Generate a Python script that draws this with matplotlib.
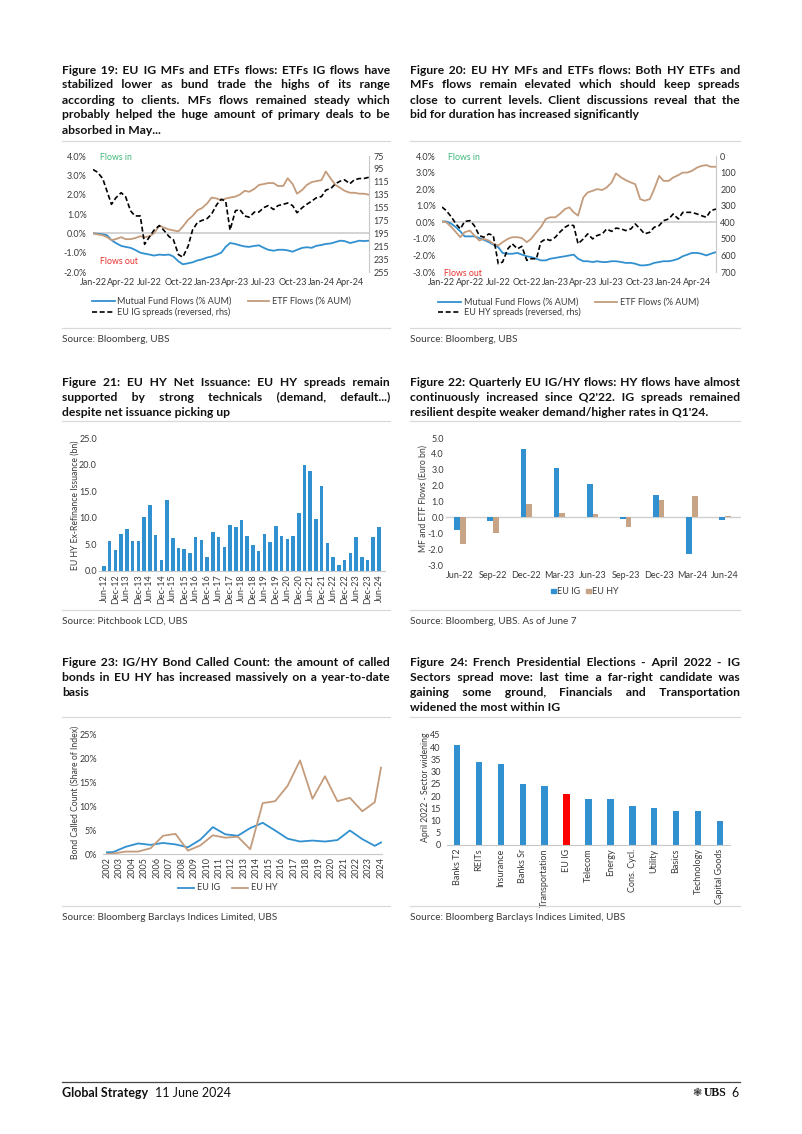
import matplotlib
matplotlib.use('Agg')
import matplotlib.pyplot as plt
from matplotlib import font_manager as fm
from matplotlib.font_manager import FontProperties
from matplotlib.patches import Rectangle
import numpy as np
import pandas as pd

# ---------------- data ----------------
dates = pd.date_range('2022-01-01', '2024-06-01', freq='SMS')
date_ticks = pd.date_range('2022-01-01', '2024-04-01', freq='3MS')

ig_mf = [0.0, -0.02, -0.05, -0.1, -0.35, -0.5, -0.65, -0.7, -0.75, -0.85,
         -1.0, -1.05, -1.1, -1.15, -1.1, -1.12, -1.1, -1.2, -1.45, -1.6,
         -1.55, -1.5, -1.4, -1.35, -1.25, -1.2, -1.1, -1.0, -0.7, -0.5,
         -0.55, -0.62, -0.68, -0.7, -0.65, -0.62, -0.75, -0.85, -0.9, -0.85,
         -0.85, -0.88, -0.95, -0.85, -0.75, -0.72, -0.75, -0.65, -0.6, -0.55,
         -0.52, -0.45, -0.38, -0.4, -0.5, -0.45, -0.38, -0.4, -0.38]
ig_etf = [0.0, -0.05, -0.1, -0.2, -0.35, -0.3, -0.2, -0.3, -0.3, -0.25,
          -0.15, -0.2, -0.15, 0.0, 0.4, 0.3, 0.2, 0.15, 0.1, 0.35,
          0.7, 0.9, 1.2, 1.3, 1.55, 1.85, 1.8, 1.7, 1.8, 1.85,
          1.9, 2.0, 2.2, 2.15, 2.3, 2.5, 2.55, 2.6, 2.6, 2.45,
          2.45, 2.85, 2.55, 2.05, 2.25, 2.5, 2.65, 2.7, 2.75, 3.2,
          2.8, 2.5, 2.35, 2.2, 2.1, 2.1, 2.05, 2.05, 2.0]
ig_spread = [96, 100, 110, 130, 150, 140, 132, 138, 160, 168,
             168, 212, 200, 190, 183, 190, 200, 205, 228, 232,
             215, 190, 178, 175, 172, 165, 150, 142, 145, 190,
             160, 158, 168, 170, 162, 162, 155, 152, 158, 152,
             150, 148, 152, 163, 155, 150, 145, 140, 138, 128,
             125, 118, 114, 112, 118, 112, 110, 110, 108]

hy_mf = [0.05, 0.05, -0.1, -0.3, -0.55, -0.85, -0.85, -0.85, -0.95, -1.05,
         -1.2, -1.35, -1.5, -1.85, -1.9, -1.9, -1.85, -1.95, -2.05, -2.1,
         -2.2, -2.3, -2.3, -2.2, -2.15, -2.1, -2.05, -2.0, -1.95, -2.2,
         -2.35, -2.35, -2.4, -2.35, -2.4, -2.4, -2.35, -2.35, -2.4, -2.45,
         -2.45, -2.5, -2.6, -2.6, -2.55, -2.45, -2.4, -2.35, -2.35, -2.3,
         -2.2, -2.05, -1.95, -1.85, -1.85, -1.9, -2.0, -1.9, -1.8]
hy_etf = [0.05, 0.0, -0.3, -0.6, -0.9, -0.6, -0.5, -0.8, -1.1, -1.0,
          -1.1, -1.3, -1.4, -1.2, -1.0, -0.9, -0.9, -0.95, -1.2, -1.0,
          -0.6, -0.3, 0.2, 0.3, 0.3, 0.5, 0.8, 0.9, 0.6, 0.4,
          1.5, 1.8, 1.9, 2.0, 1.95, 2.1, 2.4, 2.95, 2.7, 2.55,
          2.4, 2.3, 1.4, 1.3, 1.4, 2.0, 2.8, 2.5, 2.5, 2.7,
          2.85, 3.0, 3.0, 3.1, 3.3, 3.4, 3.45, 3.35, 3.35]
hy_spread = [308, 330, 370, 410, 440, 395, 390, 420, 480, 490,
             470, 480, 650, 640, 560, 530, 560, 545, 630, 620,
             620, 520, 500, 510, 490, 460, 430, 415, 420, 530,
             500, 470, 500, 480, 470, 440, 455, 435, 440, 450,
             440, 410, 440, 470, 460, 430, 420, 390, 380, 350,
             380, 340, 340, 340, 350, 360, 370, 330, 320]

quarters = pd.date_range('2012-06-30', '2024-06-30', freq='QE')
issuance = [1.0, 5.7, 4.0, 6.9, 7.9, 5.7, 5.6, 10.2, 12.4, 6.7,
            2.0, 13.4, 6.2, 4.3, 4.2, 3.4, 6.4, 5.9, 2.7, 7.4,
            6.3, 4.5, 8.6, 8.3, 9.6, 6.5, 4.8, 3.7, 7.0, 5.5,
            8.4, 6.5, 6.0, 6.5, 10.9, 19.9, 18.8, 9.8, 15.9, 5.3,
            2.6, 1.1, 2.1, 3.3, 6.4, 2.7, 2.0, 6.3, 8.2]

flow_q = ['Jun-22', 'Sep-22', 'Dec-22', 'Mar-23', 'Jun-23', 'Sep-23', 'Dec-23', 'Mar-24', 'Jun-24']
flow_ig = [-0.8, -0.25, 4.3, 3.1, 2.1, -0.1, 1.4, -2.3, -0.15]
flow_hy = [-1.67, -0.96, 0.87, 0.25, 0.22, -0.6, 1.1, 1.36, 0.1]

called_x = [2002.0, 2002.5, 2003.5, 2004.5, 2005.5, 2006.5, 2007.5, 2008.5, 2009.5, 2010.5,
            2011.5, 2012.5, 2013.5, 2014.5, 2015.5, 2016.5, 2017.5, 2018.5, 2019.5, 2020.5,
            2021.5, 2022.5, 2023.5, 2024.0]
called_ig = [0.35, 0.4, 1.5, 2.2, 1.9, 2.3, 2.0, 1.4, 3.0, 5.6,
             4.1, 3.8, 5.4, 6.5, 4.9, 3.2, 2.6, 2.8, 2.6, 2.9,
             4.9, 3.1, 1.7, 2.4]
called_hy = [0.0, 0.1, 0.5, 0.5, 1.2, 3.8, 4.2, 0.7, 1.8, 3.9,
             3.4, 3.6, 1.0, 10.6, 11.0, 14.2, 19.5, 11.5, 16.2, 11.0,
             11.7, 8.9, 10.8, 18.0]
called_years = list(range(2002, 2025))

sectors = ['Banks T2', 'REITs', 'Insurance', 'Banks Sr', 'Transportation', 'EU IG', 'Telecom',
           'Energy', 'Cons. Cycl.', 'Utility', 'Basics', 'Technology', 'Capital Goods']
widening = [41, 34, 33, 25, 24, 21, 19, 19, 16, 15, 14, 14, 10]

# ---------------- style ----------------
W, H = 802, 1134
BLUE = '#3190D0'
TAN = '#C49C7C'
TANBAR = '#C8A486'
GRAY = '#C8C8C8'
TXT = '#3A3A3A'

avail = {f.name for f in fm.fontManager.ttflist}
def pick(*names):
    for n in names:
        if n in avail:
            return n
    return 'DejaVu Sans'
TFONT = pick('Liberation Sans Narrow', 'Lato', 'DejaVu Sans')
FONT = pick('Liberation Sans Narrow', 'Lato', 'DejaVu Sans')
plt.rcParams['font.family'] = [FONT, 'DejaVu Sans']
TICK = 6.5

fig = plt.figure(figsize=(W / 100, H / 100), dpi=100)
renderer = fig.canvas.get_renderer()


def rect(x0, y0, x1, y1):
    return [x0 / W, 1 - y1 / H, (x1 - x0) / W, (y1 - y0) / H]


def tw(s, fp):
    w, h, d = renderer.get_text_width_height_descent(s, fp, ismath=False)
    return w


def clean(ax, keep=()):
    for s in ['top', 'left', 'right', 'bottom']:
        ax.spines[s].set_visible(s in keep)
        ax.spines[s].set_color(GRAY)
    ax.tick_params(length=0, labelsize=TICK, colors=TXT)


def flows_chart(x0, x1, mf, etf, spread, ylo, yhi, slo, shi, sstep):
    ax = fig.add_axes(rect(x0, 156, x1, 272))
    ax.axhline(0, color='#D0D0D0', lw=1.3, zorder=0)
    ax.plot(dates, mf, color=BLUE, lw=1.3)
    ax.plot(dates, etf, color=TAN, lw=1.3)
    ax.set_ylim(ylo, yhi)
    ax.set_yticks(np.arange(ylo, yhi + 0.01, 1))
    ax.set_yticklabels([f'{v:.1f}%' for v in np.arange(ylo, yhi + 0.01, 1)])
    ax.set_xlim(dates[0], dates[-1])
    ax.set_xticks(date_ticks)
    ax.set_xticklabels([d.strftime('%b-%y') for d in date_ticks])
    clean(ax)
    ax.tick_params(axis='y', pad=4.5)
    ax.tick_params(axis='x', pad=4)
    axr = ax.twinx()
    axr.plot(dates, spread, color='black', lw=1.2, ls=(0, (3, 1.6)))
    axr.set_ylim(shi, slo)
    axr.set_yticks(np.arange(slo, shi + 1, sstep))
    clean(axr, keep=('right',))
    axr.tick_params(axis='y', pad=3)
    return ax


flows_chart(93, 369, ig_mf, ig_etf, ig_spread, -2, 4, 75, 255, 20)
flows_chart(442, 716, hy_mf, hy_etf, hy_spread, -3, 4, 0, 700, 100)

# Figure 21: issuance bars
ax3 = fig.add_axes(rect(99, 438, 385, 571))
xq = np.arange(len(issuance))
ax3.bar(xq, issuance, width=0.62, color=BLUE)
ax3.set_xlim(-0.87, len(issuance) + 0.05)
ax3.set_ylim(0, 25)
ax3.set_yticks(np.arange(0, 26, 5))
ax3.set_yticklabels([f'{v:.1f}' for v in np.arange(0, 26, 5)])
ax3.set_xticks(xq[::2])
ax3.set_xticklabels([q.strftime('%b-%y') for q in quarters[::2]], rotation=90)
clean(ax3, keep=('bottom',))
ax3.tick_params(axis='y', pad=1.5)
ax3.tick_params(axis='x', pad=2.5)

# Figure 22: quarterly flows
ax4 = fig.add_axes(rect(446, 438, 741, 565))
xf = np.arange(len(flow_q))
ax4.axhline(0, color='#D0D0D0', lw=1.0, zorder=0)
ax4.bar(xf - 0.085, flow_ig, width=0.17, color=BLUE)
ax4.bar(xf + 0.085, flow_hy, width=0.17, color=TANBAR)
ax4.set_xlim(-0.42, len(flow_q) - 0.52)
ax4.set_ylim(-3, 5)
ax4.set_yticks(np.arange(-3, 5.1, 1))
ax4.set_yticklabels([f'{v:.1f}' for v in np.arange(-3, 5.1, 1)])
ax4.set_xticks(xf)
ax4.set_xticklabels(flow_q)
clean(ax4)
ax4.tick_params(axis='y', pad=1.5)
ax4.tick_params(axis='x', pad=4)

# Figure 23: called count
ax5 = fig.add_axes(rect(103, 734, 382, 854))
ax5.plot(called_x, called_ig, color=BLUE, lw=1.3)
ax5.plot(called_x, called_hy, color=TAN, lw=1.3)
ax5.set_xlim(2001.68, 2024.08)
ax5.set_ylim(0, 25)
ax5.set_yticks(np.arange(0, 26, 5))
ax5.set_yticklabels([f'{v}%' for v in range(0, 26, 5)])
ax5.set_xticks(called_years)
ax5.set_xticklabels([str(y) for y in called_years], rotation=90)
clean(ax5, keep=('bottom',))
ax5.tick_params(axis='y', pad=4.5)
ax5.tick_params(axis='x', pad=2.5)

# Figure 24: sector widening
ax6 = fig.add_axes(rect(447, 735, 730, 845))
xs = np.arange(len(sectors))
cols = ['#FF0000' if s == 'EU IG' else BLUE for s in sectors]
ax6.bar(xs, widening, width=0.3, color=cols)
ax6.set_xlim(-0.46, len(sectors) - 0.54)
ax6.set_ylim(0, 45)
ax6.set_yticks(np.arange(0, 46, 5))
ax6.set_xticks(xs)
ax6.set_xticklabels(sectors, rotation=90)
clean(ax6, keep=('bottom',))
ax6.tick_params(axis='y', pad=4.5)
ax6.tick_params(axis='x', pad=2.5)

# ---------------- overlay (page text, legends) ----------------
ov = fig.add_axes([0, 0, 1, 1])
ov.set_xlim(0, W)
ov.set_ylim(H, 0)
ov.axis('off')
ov.set_zorder(20)

HAIR = '\u200a'


def title_block(lines, x0, x1, y0, dy, size):
    fp = FontProperties(family=[TFONT, 'DejaVu Sans'], weight='bold', size=size)
    normal = tw('a a', fp) - tw('aa', fp)
    wh = tw('a' + HAIR * 10 + 'a', fp) - tw('aa', fp)
    wh = wh / 10.0
    use_hair = wh > 0.3
    for i, line in enumerate(lines):
        words = line.split(' ')
        y = y0 + i * dy
        if i == len(lines) - 1 or len(words) == 1:
            s = line
        else:
            widths = [tw(w, fp) for w in words]
            gap = (x1 - x0 - sum(widths)) / (len(words) - 1)
            parts = [words[0]]
            err = 0.0
            for w in words[1:]:
                target = gap + err
                if use_hair:
                    n = max(1, int(round(target / wh)))
                    parts.append(HAIR * n)
                    err = target - n * wh
                else:
                    n = max(1, int(round(target / normal)))
                    parts.append(' ' * n)
                    err = target - n * normal
                parts.append(w)
            s = ''.join(parts)
        ov.text(x0, y, s, fontproperties=fp, ha='left', va='center', color='#111111')


def fit_size(all_lines, width, start=9.5):
    fp = FontProperties(family=TFONT, weight='bold', size=start)
    mx = 0
    for lines in all_lines:
        for line in lines[:-1]:
            mx = max(mx, tw(line, fp))
    if mx > width - 3:
        return start * (width - 3) / mx
    return start


titles = {
    19: ["Figure 19: EU IG MFs and ETFs flows: ETFs IG flows have",
         "stabilized lower as bund trade the highs of its range",
         "according to clients. MFs flows remained steady which",
         "probably helped the huge amount of primary deals to be",
         "absorbed in May..."],
    20: ["Figure 20: EU HY MFs and ETFs flows: Both HY ETFs and",
         "MFs flows remain elevated which should keep spreads",
         "close to current levels. Client discussions reveal that the",
         "bid for duration has increased significantly"],
    21: ["Figure 21: EU HY Net Issuance: EU HY spreads remain",
         "supported by strong technicals (demand, default...)",
         "despite net issuance picking up"],
    22: ["Figure 22: Quarterly EU IG/HY flows: HY flows have almost",
         "continuously increased since Q2'22. IG spreads remained",
         "resilient despite weaker demand/higher rates in Q1'24."],
    23: ["Figure 23: IG/HY Bond Called Count: the amount of called",
         "bonds in EU HY has increased massively on a year-to-date",
         "basis"],
    24: ["Figure 24: French Presidential Elections - April 2022 - IG",
         "Sectors spread move: last time a far-right candidate was",
         "gaining some ground, Financials and Transportation",
         "widened the most within IG"],
}
LX0, LX1, RX0, RX1 = 62, 390, 410, 740
tsize = fit_size(list(titles.values()), LX1 - LX0)
title_block(titles[19], LX0, LX1, 70, 15, tsize)
title_block(titles[20], RX0, RX1, 70, 15, tsize)
title_block(titles[21], LX0, LX1, 382, 15.5, tsize)
title_block(titles[22], RX0, RX1, 382, 15.5, tsize)
title_block(titles[23], LX0, LX1, 662, 15.3, tsize)
title_block(titles[24], RX0, RX1, 662, 15.3, tsize)

for y in (141, 328, 421, 610, 717, 906):
    ov.plot([LX0, LX1], [y, y], color='#D9D9D9', lw=0.9)
    ov.plot([RX0, RX1], [y, y], color='#D9D9D9', lw=0.9)
src_fs = 7.2
ov.text(LX0, 339, 'Source: Bloomberg, UBS', fontsize=src_fs, va='center', color=TXT)
ov.text(RX0, 339, 'Source: Bloomberg, UBS', fontsize=src_fs, va='center', color=TXT)
ov.text(LX0, 621, 'Source: Pitchbook LCD, UBS', fontsize=src_fs, va='center', color=TXT)
ov.text(RX0, 621, 'Source: Bloomberg, UBS. As of June 7', fontsize=src_fs, va='center', color=TXT)
ov.text(LX0, 917, 'Source: Bloomberg Barclays Indices Limited, UBS', fontsize=src_fs, va='center', color=TXT)
ov.text(RX0, 917, 'Source: Bloomberg Barclays Indices Limited, UBS', fontsize=src_fs, va='center', color=TXT)

# footer
ov.plot([62, 740], [1082, 1082], color='#444444', lw=0.9)
fpb = FontProperties(family=FONT, weight='bold', size=9)
ov.text(62, 1093, 'Global Strategy', fontproperties=fpb, va='center', color='#111111')
ov.text(62 + tw('Global Strategy', fpb) + 7, 1093, '11 June 2024', fontsize=9, va='center', color='#111111')
ov.text(731, 1093, '6', fontsize=9, va='center', ha='left', color='#111111')
fpu = FontProperties(family=pick('Liberation Serif', 'DejaVu Serif'), weight='bold', size=8.5)
ov.text(726, 1093, 'UBS', fontproperties=fpu, va='center', ha='right', color='#111111')
ov.text(726 - tw('UBS', fpu) - 1.5, 1093, '\u2743', fontsize=8, va='center', ha='right',
        color='#333333', family='DejaVu Sans')

fpl = FontProperties(family=FONT, size=TICK)

# chart 19 annotations / legend
ov.text(100, 158, 'Flows in', fontsize=6.3, color='#3DB878', va='center')
ov.text(100, 262, 'Flows out', fontsize=6.3, color='#E8302E', va='center')
ov.plot([92, 115], [301, 301], color=BLUE, lw=1.3)
ov.text(117, 301, 'Mutual Fund Flows (% AUM)', fontproperties=fpl, va='center', color=TXT)
ov.plot([248, 269], [301, 301], color=TAN, lw=1.3)
ov.text(272, 301, 'ETF Flows (% AUM)', fontproperties=fpl, va='center', color=TXT)
ov.plot([92, 115], [312, 312], color='black', lw=1.2, ls=(0, (3, 1.6)))
ov.text(117, 312, 'EU IG spreads (reversed, rhs)', fontproperties=fpl, va='center', color=TXT)

# chart 20
ov.text(448, 157, 'Flows in', fontsize=6.3, color='#3DB878', va='center')
ov.text(444, 274, 'Flows out', fontsize=6.3, color='#E8302E', va='center')
ov.plot([438, 461], [302, 302], color=BLUE, lw=1.3)
ov.text(464, 302, 'Mutual Fund Flows (% AUM)', fontproperties=fpl, va='center', color=TXT)
ov.plot([595, 617], [302, 302], color=TAN, lw=1.3)
ov.text(620, 302, 'ETF Flows (% AUM)', fontproperties=fpl, va='center', color=TXT)
ov.plot([438, 461], [312, 312], color='black', lw=1.2, ls=(0, (3, 1.6)))
ov.text(464, 312, 'EU HY spreads (reversed, rhs)', fontproperties=fpl, va='center', color=TXT)

# axis titles
ov.text(75, 505, 'EU HY Ex-Refinance Issuance (bn)', fontsize=6.2, rotation=90,
        ha='center', va='center', color=TXT)
ov.text(423, 499, 'MF and ETF Flows (Euro bn)', fontsize=6.2, rotation=90,
        ha='center', va='center', color=TXT)
ov.text(75, 792, 'Bond Called Count (Share of Index)', fontsize=6.2, rotation=90,
        ha='center', va='center', color=TXT)
ov.text(426, 787, 'April 2022 - Sector widening', fontsize=6.2, rotation=90,
        ha='center', va='center', color=TXT)

# chart 22 legend
lx = 551
ov.add_patch(Rectangle((lx, 588.5), 4.5, 4.5, color=BLUE))
ov.text(lx + 6, 591, 'EU IG', fontproperties=fpl, va='center', color=TXT)
lx = lx + 6 + tw('EU IG', fpl) + 6
ov.add_patch(Rectangle((lx, 588.5), 4.5, 4.5, color=TANBAR))
ov.text(lx + 6, 591, 'EU HY', fontproperties=fpl, va='center', color=TXT)

# chart 23 legend (centred under the plot)
seg = 16
w_ig = tw('EU IG', fpl)
w_hy = tw('EU HY', fpl)
total = seg + 3 + w_ig + 12 + seg + 3 + w_hy
lx = 228 - total / 2
ov.plot([lx, lx + seg], [888, 888], color=BLUE, lw=1.3)
ov.text(lx + seg + 3, 888, 'EU IG', fontproperties=fpl, va='center', color=TXT)
lx = lx + seg + 3 + w_ig + 12
ov.plot([lx, lx + seg], [888, 888], color=TAN, lw=1.3)
ov.text(lx + seg + 3, 888, 'EU HY', fontproperties=fpl, va='center', color=TXT)

fig.savefig('out.png', dpi=100)
